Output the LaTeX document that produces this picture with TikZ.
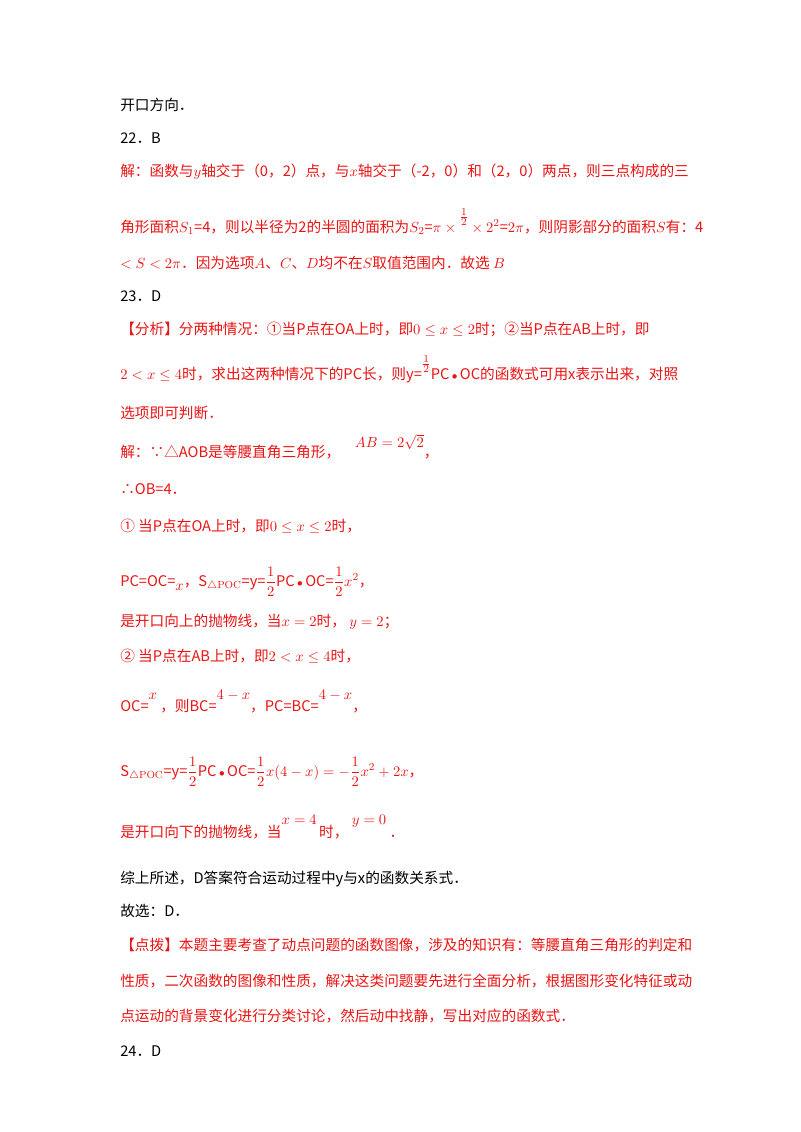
\documentclass[tikz,border=0pt]{standalone}
\usepackage{fontspec}
\newfontfamily\cjk{Noto Sans CJK SC}
\definecolor{rd}{RGB}{235,20,20}
\newcommand{\hf}{{\displaystyle\frac{1}{2}}}
\newcommand{\bt}{\,{\footnotesize$\bullet$}\,}
\begin{document}
\begin{tikzpicture}[x=0.75pt,y=-0.75pt,
 t/.style={anchor=base west,inner sep=0pt,font=\cjk\fontsize{11pt}{13pt}\selectfont},
 r/.style={t,text=rd}]
\useasboundingbox[fill=white] (0,0) rectangle (800,1132);
\node[t] (l1) at (120,110) {开口方向．};
\node[t] (l2) at (120,143) {22．B};
\node[r] (l3) at (120,176) {解：函数与$y$轴交于（0，2）点，与$x$轴交于（-2，0）和（2，0）两点，则三点构成的三};
\node[r] (l4) at (120,232) {角形面积$S_1$=4，则以半径为2的半圆的面积为$S_2$=$\pi\times\raisebox{1.4ex}{$\frac{1}{2}$}\times2^2$=$2\pi$，则阴影部分的面积$S$有：4};
\node[r] (l5) at (120,268) {$<S<2\pi$．因为选项$A$、$C$、$D$均不在$S$取值范围内．故选 $B$};
\node[t] (l6) at (120,301) {23．D};
\node[r] (l7) at (120,334) {【分析】分两种情况：①当P点在OA上时，即$0\le x\le2$时；②当P点在AB上时，即};
\node[r] (l8) at (120,379) {$2<x\le4$时，求出这两种情况下的PC长，则y=$\raisebox{1.4ex}{$\frac12$}$PC\bt OC的函数式可用x表示出来，对照};
\node[r] (l9) at (120,418) {选项即可判断．};
\node[r] (l10) at (120,457) {解：∵△AOB是等腰直角三角形，\quad\raisebox{1.2ex}{$AB=2\sqrt2$}，};
\node[r] (l11) at (120,494) {∴OB=4．};
\node[r] (l12) at (120,531) {① 当P点在OA上时，即$0\le x\le2$时，};
\node[r] (l13) at (120,586) {PC=OC=\raisebox{-0.6ex}{$x$}，S$_{\triangle\mathrm{POC}}$=y=$\hf$PC\bt OC=$\hf x^2$，};
\node[r] (l14) at (120,626) {是开口向上的抛物线，当$x=2$时，\ $y=2$；};
\node[r] (l15) at (120,661) {② 当P点在AB上时，即$2<x\le4$时，};
\node[r] (l16) at (120,711) {OC=\raisebox{1.5ex}{$x$}\ ，则BC=\raisebox{1.5ex}{$4-x$}，PC=BC=\raisebox{1.5ex}{$4-x$}，};
\node[r] (l17) at (120,776) {S$_{\triangle\mathrm{POC}}$=y=$\hf$PC\bt OC=$\hf x(4-x)=-\hf x^2+2x$，};
\node[r] (l18) at (120,837) {是开口向下的抛物线，当\raisebox{1.6ex}{$x=4$}\,时，\raisebox{1.6ex}{$\ y=0$}\ ．};
\node[t] (l19) at (120,883) {综上所述，D答案符合运动过程中y与x的函数关系式．};
\node[t] (l20) at (120,916) {故选：D．};
\node[r] (l21) at (120,950) {【点拨】本题主要考查了动点问题的函数图像，涉及的知识有：等腰直角三角形的判定和};
\node[r] (l22) at (120,986) {性质，二次函数的图像和性质，解决这类问题要先进行全面分析，根据图形变化特征或动};
\node[r] (l23) at (120,1021) {点运动的背景变化进行分类讨论，然后动中找静，写出对应的函数式．};
\node[t] (l24) at (120,1056) {24．D};
\end{tikzpicture}
\end{document}
